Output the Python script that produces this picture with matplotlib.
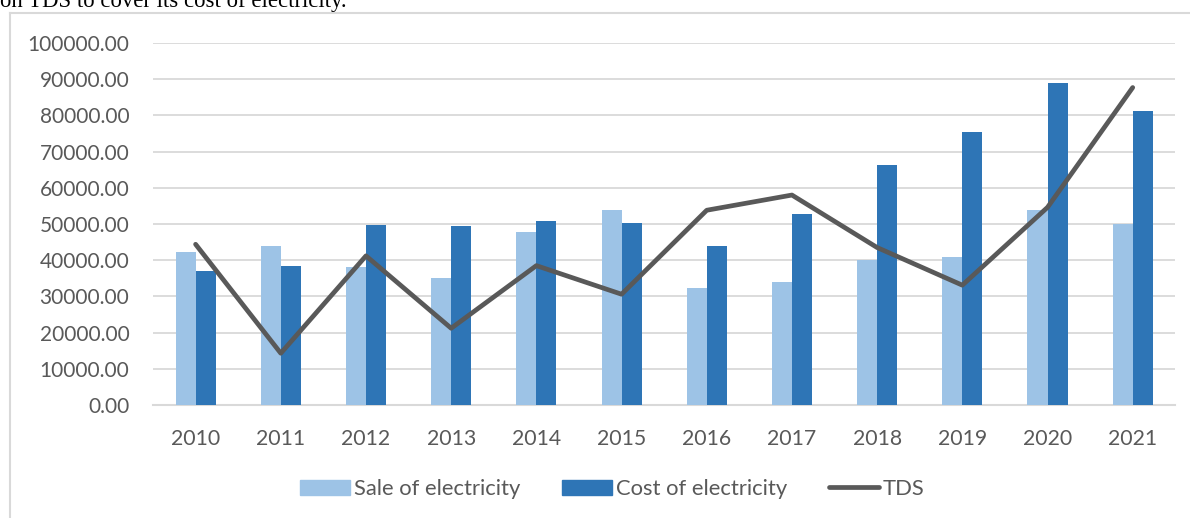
import matplotlib.pyplot as plt
import numpy as np
from matplotlib.lines import Line2D
from matplotlib.patches import Patch

years = ['2010', '2011', '2012', '2013', '2014', '2015',
         '2016', '2017', '2018', '2019', '2020', '2021']
sale = [42300, 43900, 38100, 35200, 47700, 53900,
        32300, 34000, 40000, 40900, 54000, 50100]
cost = [37000, 38300, 49700, 49400, 50900, 50300,
        44000, 52800, 66300, 75300, 89000, 81300]
tds = [44400, 14300, 41200, 21200, 38500, 30600,
       53800, 58000, 43500, 33100, 54600, 87700]

c_sale = '#9dc3e6'
c_cost = '#2e75b6'
c_tds = '#595959'
c_grid = '#d9d9d9'
c_text = '#595959'

plt.rcParams['font.family'] = ['Lato', 'DejaVu Sans']

W, H = 1190, 518
fig = plt.figure(figsize=(W / 100, H / 100), dpi=100)
ax = fig.add_axes([153 / W, 1 - 405 / H, (1175.3 - 153) / W, (405 - 43) / H])

x = np.arange(len(years))
bw = 0.235
ax.bar(x - bw / 2, sale, bw, color=c_sale, zorder=2)
ax.bar(x + bw / 2, cost, bw, color=c_cost, zorder=2)
ax.plot(x, tds, color=c_tds, lw=3.4, solid_joinstyle='round',
        solid_capstyle='round', zorder=3)

ax.set_xlim(-0.5, len(years) - 0.5)
ax.set_ylim(0, 100000)
ax.set_yticks(np.arange(0, 100001, 10000))
ax.set_yticklabels(['%.2f' % v for v in np.arange(0, 100001, 10000)])
ax.set_xticks(x)
ax.set_xticklabels(years)
ax.grid(axis='y', color=c_grid, lw=1.3, zorder=0)
for s in ['top', 'right', 'left']:
    ax.spines[s].set_visible(False)
ax.spines['bottom'].set_color(c_grid)
ax.spines['bottom'].set_linewidth(1.5)
ax.spines['bottom'].set_zorder(1)
ax.tick_params(axis='y', length=0, labelsize=15, labelcolor=c_text, pad=17)
ax.tick_params(axis='x', length=0, labelsize=15.3, labelcolor=c_text, pad=17)

# chart frame (left and top edges only)
fig.add_artist(Line2D([10 / W, 10 / W], [0, 1 - 13 / H], color=c_grid,
                      lw=1.5, transform=fig.transFigure))
fig.add_artist(Line2D([10 / W, 1], [1 - 13 / H, 1 - 13 / H], color=c_grid,
                      lw=1.5, transform=fig.transFigure))

# tail of the paragraph above the chart
fig.text(0, 1 - 7.5 / H, 'on TDS to cover its cost of electricity.',
         family='Liberation Serif', fontsize=16.4, color='black',
         va='baseline', ha='left')

handles = [Patch(color=c_sale, label='Sale of electricity'),
           Patch(color=c_cost, label='Cost of electricity'),
           Line2D([], [], color=c_tds, lw=3.4, solid_capstyle='round', label='TDS')]
fig.legend(handles=handles, loc='center', bbox_to_anchor=(612 / W, 1 - 489 / H),
           ncol=3, frameon=False, fontsize=15.8, labelcolor=c_text,
           handlelength=2.3, handleheight=0.65, handletextpad=0.15,
           columnspacing=1.9)

fig.savefig('out.png', dpi=100)
